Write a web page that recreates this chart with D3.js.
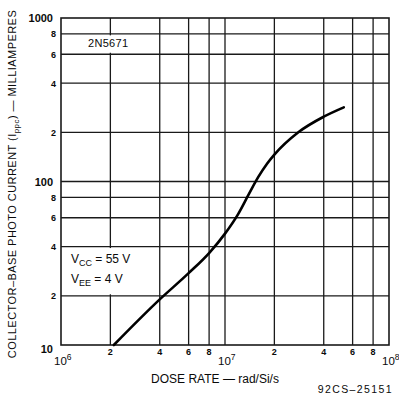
<html>
<head>
  <script src="https://d3js.org/d3.v7.min.js"></script>
  <style>
    body { margin: 0; background: #fff; }
    text { font-family: "Liberation Sans", Arial, sans-serif; fill: #0a0a0a; }
  </style>
</head>
<body>
  <svg id="chart" width="399" height="395"></svg>
  <script>

    // dose rate (rad/Si/s) vs collector-base photo current (mA)
    const doseRate = [2.1e6, 4e6, 6e6, 8e6, 1e7, 1.2e7, 1.4e7, 1.6e7, 1.8e7, 2e7, 2.8e7, 4e7, 5.3e7];
    const current = [10, 19, 27.5, 36.5, 48, 63, 84, 107, 128, 146, 200, 249, 284];

    const xGrid = [2e6, 4e6, 6e6, 8e6, 1e7, 2e7, 4e7, 6e7, 8e7];
    const yGrid = [20, 40, 60, 80, 100, 200, 400, 600, 800];
    const xMinorLabels = [2e6, 4e6, 6e6, 8e6, 2e7, 4e7, 6e7, 8e7];
    const yMinorLabels = [20, 40, 60, 80, 200, 400, 600, 800];
    const xDecades = [[1e6, "6"], [1e7, "7"], [1e8, "8"]];
    const yDecades = [1000, 100, 10];

    const svg = d3.select("#chart");
    const plotL = 61, plotR = 389, plotT = 18, plotB = 345;

    const x = d3.scaleLog().domain([1e6, 1e8]).range([plotL, plotR]);
    const y = d3.scaleLog().domain([10, 1000]).range([plotB, plotT]);

    const ink = "#1a1a1a";

    // grid
    svg.selectAll(".vgrid").data(xGrid)
      .join("line")
      .attr("class", "vgrid")
      .attr("x1", d => x(d)).attr("x2", d => x(d))
      .attr("y1", plotT).attr("y2", plotB)
      .attr("stroke", ink).attr("stroke-width", 1.3);

    svg.selectAll(".hgrid").data(yGrid)
      .join("line")
      .attr("class", "hgrid")
      .attr("x1", plotL).attr("x2", plotR)
      .attr("y1", d => y(d)).attr("y2", d => y(d))
      .attr("stroke", ink).attr("stroke-width", 1.3);

    // white label boxes over the grid
    svg.append("rect")
      .attr("x", 84).attr("y", y(800) + 1.5)
      .attr("width", 50).attr("height", y(600) - y(800) - 3)
      .attr("fill", "#fff");

    svg.append("rect")
      .attr("x", plotL + 1).attr("y", y(40) + 1.5)
      .attr("width", 95).attr("height", y(20) - y(40) - 3)
      .attr("fill", "#fff");

    // frame
    svg.append("rect")
      .attr("x", plotL).attr("y", plotT)
      .attr("width", plotR - plotL).attr("height", plotB - plotT)
      .attr("fill", "none").attr("stroke", ink).attr("stroke-width", 1.6);

    // curve
    const line = d3.line()
      .x(d => x(d[0]))
      .y(d => y(d[1]))
      .curve(d3.curveMonotoneX);

    svg.append("path")
      .datum(doseRate.map((d, i) => [d, current[i]]))
      .attr("d", line)
      .attr("fill", "none")
      .attr("stroke", "#000")
      .attr("stroke-width", 2.6)
      .attr("stroke-linecap", "round");

    // y tick labels
    svg.selectAll(".ymaj").data(yDecades)
      .join("text")
      .attr("class", "ymaj")
      .attr("x", 53)
      .attr("y", d => d === 10 ? y(d) + 8 : y(d) + 4)
      .attr("text-anchor", "end")
      .attr("font-size", 11)
      .attr("font-weight", "bold")
      .text(d => d);

    svg.selectAll(".ymin").data(yMinorLabels)
      .join("text")
      .attr("class", "ymin")
      .attr("x", 56)
      .attr("y", d => y(d) + 3.5)
      .attr("text-anchor", "end")
      .attr("font-size", 9)
      .attr("font-weight", "bold")
      .text(d => String(d).charAt(0));

    // x tick labels
    svg.selectAll(".xmin").data(xMinorLabels)
      .join("text")
      .attr("class", "xmin")
      .attr("x", d => x(d))
      .attr("y", 355)
      .attr("text-anchor", "middle")
      .attr("font-size", 9)
      .attr("font-weight", "bold")
      .text(d => String(d).charAt(0));

    const dec = svg.selectAll(".xmaj").data(xDecades)
      .join("text")
      .attr("class", "xmaj")
      .attr("x", d => x(d[0]) - 7)
      .attr("y", 365)
      .attr("font-size", 11.5);
    dec.append("tspan").text("10");
    dec.append("tspan").attr("font-size", 8.5).attr("dy", -5).text(d => d[1]);

    // annotations
    svg.append("text")
      .attr("x", 88).attr("y", y(700) + 4)
      .attr("font-size", 11)
      .attr("letter-spacing", 0.3)
      .text("2N5671");

    const vcc = svg.append("text").attr("x", 71).attr("y", 263).attr("font-size", 12);
    vcc.append("tspan").text("V");
    vcc.append("tspan").attr("font-size", 9).attr("dy", 3).text("CC");
    vcc.append("tspan").attr("dy", -3).text(" = 55 V");

    const vee = svg.append("text").attr("x", 71).attr("y", 283).attr("font-size", 12);
    vee.append("tspan").text("V");
    vee.append("tspan").attr("font-size", 9).attr("dy", 3).text("EE");
    vee.append("tspan").attr("dy", -3).text(" = 4 V");

    // axis titles
    svg.append("text")
      .attr("x", 215).attr("y", 383)
      .attr("text-anchor", "middle")
      .attr("font-size", 12)
      .text("DOSE RATE \u2014 rad/Si/s");

    const yt = svg.append("text")
      .attr("transform", "translate(16,184) rotate(-90)")
      .attr("text-anchor", "middle")
      .attr("font-size", 11)
      .attr("letter-spacing", 0.45);
    yt.append("tspan").text("COLLECTOR\u2013BASE PHOTO CURRENT (I");
    yt.append("tspan").attr("font-size", 8).attr("dy", 2.5).text("ppc");
    yt.append("tspan").attr("dy", -2.5).text(") \u2014 MILLIAMPERES");

    svg.append("text")
      .attr("x", 393).attr("y", 393)
      .attr("text-anchor", "end")
      .attr("font-size", 10.5)
      .attr("letter-spacing", 1.4)
      .text("92CS\u201325151");

  </script>
</body>
</html>
